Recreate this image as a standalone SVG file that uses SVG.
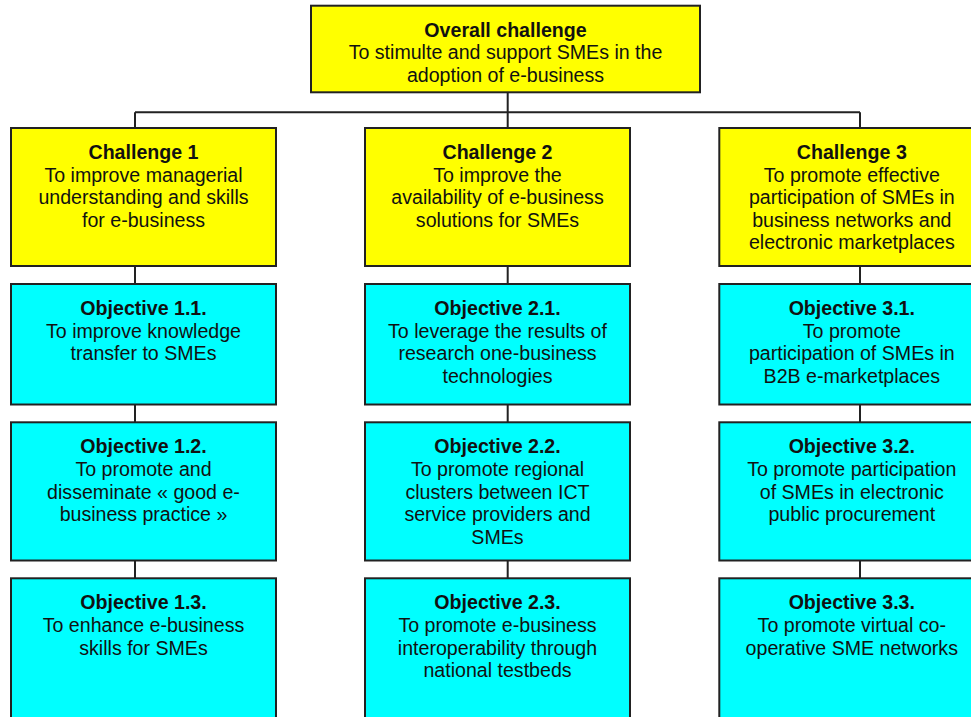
<svg xmlns="http://www.w3.org/2000/svg" width="971" height="717" viewBox="0 0 971 717">
<style>
.y{fill:#ffff00;stroke:#222;stroke-width:2}
.c{fill:#00ffff;stroke:#222;stroke-width:2}
text{font-family:"Liberation Sans",Arial,sans-serif;font-size:19.6px;fill:#111;text-anchor:middle}
.h{font-weight:bold}
.ln{fill:none;stroke:#222;stroke-width:2}
</style>
<rect width="971" height="717" fill="#ffffff"/>
<g id="connectors" class="ln">
<path d="M507.7 92.3V112.3M135 112.3H860M135 112.3V128M507.7 112.3V128M860 112.3V128"/>
<path d="M135 266V284M135 404.5V422.3M135 560.5V578.3"/>
<path d="M507.7 266V284M507.7 404.5V422.3M507.7 560.5V578.3"/>
<path d="M860 266V284M860 404.5V422.3M860 560.5V578.3"/>
</g>
<g id="overall">
<rect class="y" x="311" y="5.7" width="389" height="86.6"/>
<text x="505.5" y="36.7" class="h">Overall challenge</text>
<text x="505.5" y="59.3">To stimulte and support SMEs in the</text>
<text x="505.5" y="81.9">adoption of e-business</text>
</g>
<g id="challenge1">
<rect class="y" x="11" y="128" width="265" height="138"/>
<text x="143.5" y="159" class="h">Challenge 1</text>
<text x="143.5" y="181.6">To improve managerial</text>
<text x="143.5" y="204.2">understanding and skills</text>
<text x="143.5" y="226.8">for e-business</text>
</g>
<g id="challenge2">
<rect class="y" x="365" y="128" width="265" height="138"/>
<text x="497.5" y="159" class="h">Challenge 2</text>
<text x="497.5" y="181.6">To improve the</text>
<text x="497.5" y="204.2">availability of e-business</text>
<text x="497.5" y="226.8">solutions for SMEs</text>
</g>
<g id="challenge3">
<rect class="y" x="719.3" y="128" width="265" height="138"/>
<text x="851.8" y="159" class="h">Challenge 3</text>
<text x="851.8" y="181.6">To promote effective</text>
<text x="851.8" y="204.2">participation of SMEs in</text>
<text x="851.8" y="226.8">business networks and</text>
<text x="851.8" y="249.4">electronic marketplaces</text>
</g>
<g id="objective11">
<rect class="c" x="11" y="284" width="265" height="120.5"/>
<text x="143.5" y="315" class="h">Objective 1.1.</text>
<text x="143.5" y="337.6">To improve knowledge</text>
<text x="143.5" y="360.2">transfer to SMEs</text>
</g>
<g id="objective21">
<rect class="c" x="365" y="284" width="265" height="120.5"/>
<text x="497.5" y="315" class="h">Objective 2.1.</text>
<text x="497.5" y="337.6">To leverage the results of</text>
<text x="497.5" y="360.2">research one-business</text>
<text x="497.5" y="382.8">technologies</text>
</g>
<g id="objective31">
<rect class="c" x="719.3" y="284" width="265" height="120.5"/>
<text x="851.8" y="315" class="h">Objective 3.1.</text>
<text x="851.8" y="337.6">To promote</text>
<text x="851.8" y="360.2">participation of SMEs in</text>
<text x="851.8" y="382.8">B2B e-marketplaces</text>
</g>
<g id="objective12">
<rect class="c" x="11" y="422.3" width="265" height="138.2"/>
<text x="143.5" y="453.3" class="h">Objective 1.2.</text>
<text x="143.5" y="475.9">To promote and</text>
<text x="143.5" y="498.5">disseminate « good e-</text>
<text x="143.5" y="521.1">business practice »</text>
</g>
<g id="objective22">
<rect class="c" x="365" y="422.3" width="265" height="138.2"/>
<text x="497.5" y="453.3" class="h">Objective 2.2.</text>
<text x="497.5" y="475.9">To promote regional</text>
<text x="497.5" y="498.5">clusters between ICT</text>
<text x="497.5" y="521.1">service providers and</text>
<text x="497.5" y="543.7">SMEs</text>
</g>
<g id="objective32">
<rect class="c" x="719.3" y="422.3" width="265" height="138.2"/>
<text x="851.8" y="453.3" class="h">Objective 3.2.</text>
<text x="851.8" y="475.9">To promote participation</text>
<text x="851.8" y="498.5">of SMEs in electronic</text>
<text x="851.8" y="521.1">public procurement</text>
</g>
<g id="objective13">
<rect class="c" x="11" y="578.3" width="265" height="150"/>
<text x="143.5" y="609.3" class="h">Objective 1.3.</text>
<text x="143.5" y="631.9">To enhance e-business</text>
<text x="143.5" y="654.5">skills for SMEs</text>
</g>
<g id="objective23">
<rect class="c" x="365" y="578.3" width="265" height="150"/>
<text x="497.5" y="609.3" class="h">Objective 2.3.</text>
<text x="497.5" y="631.9">To promote e-business</text>
<text x="497.5" y="654.5">interoperability through</text>
<text x="497.5" y="677.1">national testbeds</text>
</g>
<g id="objective33">
<rect class="c" x="719.3" y="578.3" width="265" height="150"/>
<text x="851.8" y="609.3" class="h">Objective 3.3.</text>
<text x="851.8" y="631.9">To promote virtual co-</text>
<text x="851.8" y="654.5">operative SME networks</text>
</g>
</svg>
